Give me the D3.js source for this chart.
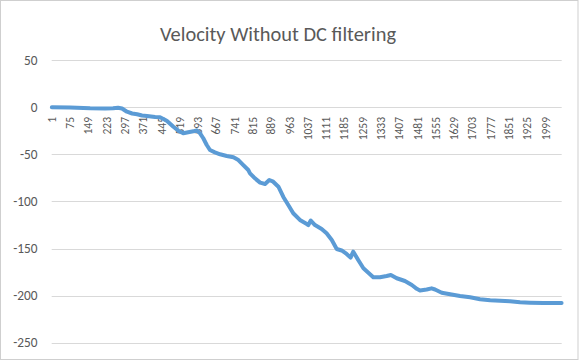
<!DOCTYPE html>
<html>
<head>
<meta charset="utf-8">
<script src="https://cdn.jsdelivr.net/npm/d3@7"></script>
<style>
  html, body { margin: 0; padding: 0; background: #fff; }
  svg { display: block; }
  text { font-family: Calibri, Carlito, "Open Sans", sans-serif; fill: #595959; }
</style>
</head>
<body>
<svg id="chart" width="580" height="361"></svg>
<script>
// ---- data ----
const chartTitle = "Velocity Without DC filtering";
const categoryCount = 2064;
const sampleCategory = [
  1, 75, 156, 216, 249, 269, 285, 305, 326, 346, 366, 386, 419, 439, 466, 493,
  513, 533, 553, 574, 587, 601, 614, 628, 641, 661, 682, 709, 736, 756, 776, 796,
  803, 823, 844, 864, 881, 897, 918, 938, 958, 978, 1005, 1033, 1039, 1049, 1066,
  1093, 1113, 1134, 1154, 1174, 1194, 1210, 1221, 1241, 1262, 1282, 1302, 1329,
  1356, 1373, 1397, 1430, 1458, 1478, 1491, 1518, 1538, 1552, 1579, 1613, 1653,
  1694, 1734, 1775, 1815, 1855, 1896, 1936, 1990, 2064
];
const velocity = [
  0, -0.3, -1.2, -1.4, -1.2, -0.5, -1.4, -4.8, -6.7, -7.5, -8.8, -9.3, -10.4, -10.7, -14.3, -20.7,
  -24.9, -27.7, -26.6, -25.6, -24.5, -27.7, -33.0, -40.1, -45.4, -47.9, -50.0, -51.8, -53.2, -56.1, -61.4, -66.7,
  -70.2, -75.5, -80.1, -81.5, -77.3, -79.1, -84.4, -95.3, -103.8, -112.6, -119.7, -124.0, -125.1, -120.3, -125.1,
  -129.3, -133.9, -141.0, -150.5, -152.1, -155.8, -159.6, -153.4, -162.2, -171.0, -175.7, -180.6, -180.6,
  -179.2, -178.1, -181.6, -184.5, -188.7, -192.8, -194.6, -193.5, -192.3, -193.5, -196.9, -198.6, -200.4,
  -201.8, -203.9, -205.0, -205.4, -206.1, -207.1, -207.5, -207.9, -207.9
];
const xTickLabels = ["1","75","149","223","297","371","445","519","593","667","741","815","889","963",
  "1037","1111","1185","1259","1333","1407","1481","1555","1629","1703","1777","1851","1925","1999"];
const yTicks = [50, 0, -50, -100, -150, -200, -250];

// ---- drawing ----
const svg = d3.select("#chart");
const plot = { left: 51.7, right: 561.7, top: 60.1, bottom: 342.7 };

const categories = d3.range(1, categoryCount + 1);
const x = d3.scaleBand().domain(categories).range([plot.left, plot.right]).padding(0);
const xc = c => x(c) + x.bandwidth() / 2;
const y = d3.scaleLinear().domain([-250, 50]).range([plot.bottom, plot.top]);

// chart border
svg.append("rect")
  .attr("x", 0.5).attr("y", 0.5).attr("width", 577.5).attr("height", 359)
  .attr("fill", "#fff").attr("stroke", "#cfcfcf").attr("stroke-width", 1);

// title
svg.append("text")
  .attr("x", 278).attr("y", 41)
  .attr("text-anchor", "middle")
  .attr("font-size", 20.5)
  .attr("textLength", 236).attr("lengthAdjust", "spacingAndGlyphs")
  .text(chartTitle);

// gridlines
svg.append("g").selectAll("line").data(yTicks).join("line")
  .attr("x1", plot.left).attr("x2", plot.right)
  .attr("y1", d => Math.round(y(d)) + 0.5).attr("y2", d => Math.round(y(d)) + 0.5)
  .attr("stroke", "#d9d9d9").attr("stroke-width", 1);

// y labels
svg.append("g").selectAll("text").data(yTicks).join("text")
  .attr("x", 37.5).attr("y", d => y(d))
  .attr("dy", "0.35em")
  .attr("text-anchor", "end")
  .attr("font-size", 13.3)
  .text(d => d);

// x labels (rotated, below the zero line)
const labelTop = 117;
svg.append("g").selectAll("text").data(xTickLabels).join("text")
  .attr("transform", d => `translate(${xc(+d)},${labelTop}) rotate(-90)`)
  .attr("dy", "0.35em")
  .attr("text-anchor", "end")
  .attr("font-size", 11.5)
  .text(d => d);

// line
const pts = sampleCategory.map((c, i) => [c, velocity[i]]);
svg.append("path")
  .datum(pts)
  .attr("fill", "none")
  .attr("stroke", "#5B9BD5")
  .attr("stroke-width", 4)
  .attr("stroke-linejoin", "round")
  .attr("stroke-linecap", "round")
  .attr("d", d3.line().x(d => xc(d[0])).y(d => y(d[1])));
</script>
</body>
</html>
